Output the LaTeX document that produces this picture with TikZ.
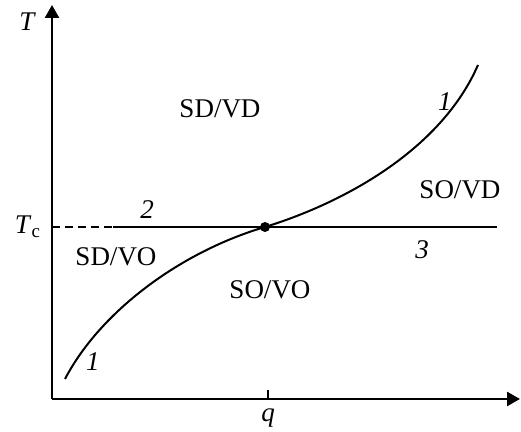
\documentclass[tikz,border=0pt]{standalone}
\usepackage{fontspec}
\setmainfont{Liberation Serif}
\usetikzlibrary{arrows.meta}
\tikzset{
  %% -- coordinate axes --
  PD/axis/.style={line width=1.3pt, -{Triangle[length=6.5pt,width=7pt]}},
  %% -- phase boundary curve 1 --
  PD/curve/.style={line width=1pt},
  %% -- horizontal line at T_c --
  PD/tline/.style={line width=1.2pt},
  PD/tdash/.style={line width=0.9pt, dash pattern=on 4pt off 2.5pt},
  %% -- critical point --
  PD/dot/.style={circle, fill=black, inner sep=0pt, minimum size=5pt},
  %% -- phase labels --
  PD/phase/.style={font=\fontsize{13.5}{15}\selectfont},
  %% -- line numbers --
  PD/num/.style={font=\fontsize{13.5}{15}\selectfont\itshape},
}

\begin{document}
\begin{tikzpicture}[x=0.5pt, y=0.5pt]
\useasboundingbox (0,0) rectangle (521,432);

%% Axes
\coordinate (O)    at (52,33);
\coordinate (ytip) at (52,427);
\coordinate (xtip) at (520,33);
\draw[PD/axis] (O) -- (ytip);
\draw[PD/axis] (O) -- (xtip);
\node[PD/num] (Tlab)  at (27,410) {T};
\node[PD/phase] (Tclab) at (28,205) {\textit{T}\textsubscript{c}};

%% Tick at q
\coordinate (qb) at (268,33);
\coordinate (qt) at (268,42);
\draw[line width=0.9pt] (qb) -- (qt);
\node[PD/num] (qlab) at (268,14) {q};

%% Line at T_c
\node[PD/dot] (crit) at (265,205) {};
\coordinate (tc0) at (52,205);
\coordinate (tc1) at (113,205);
\coordinate (tc2) at (497,205);
\draw[PD/tdash] (tc0) -- (tc1);
\draw[PD/tline] (tc1) -- (tc2);

%% Curve 1 through the critical point
\coordinate (c0) at (65,53);
\coordinate (c1) at (478,367);
\draw[PD/curve] (c0) .. controls (100,120) and (180,180) .. (crit.center)
  .. controls (340,228) and (440,280) .. (c1);

%% Line numbers
\node[PD/num] (n1a) at (93,70)   {1};
\node[PD/num] (n1b) at (445,330) {1};
\node[PD/num] (n2)  at (147,222) {2};
\node[PD/num] (n3)  at (422,182) {3};

%% Phases
\node[PD/phase] (sdvd) at (220,323) {SD/VD};
\node[PD/phase] (sdvo) at (116,175) {SD/VO};
\node[PD/phase] (sovo) at (270,142) {SO/VO};
\node[PD/phase] (sovd) at (460,242) {SO/VD};
\end{tikzpicture}
\end{document}
